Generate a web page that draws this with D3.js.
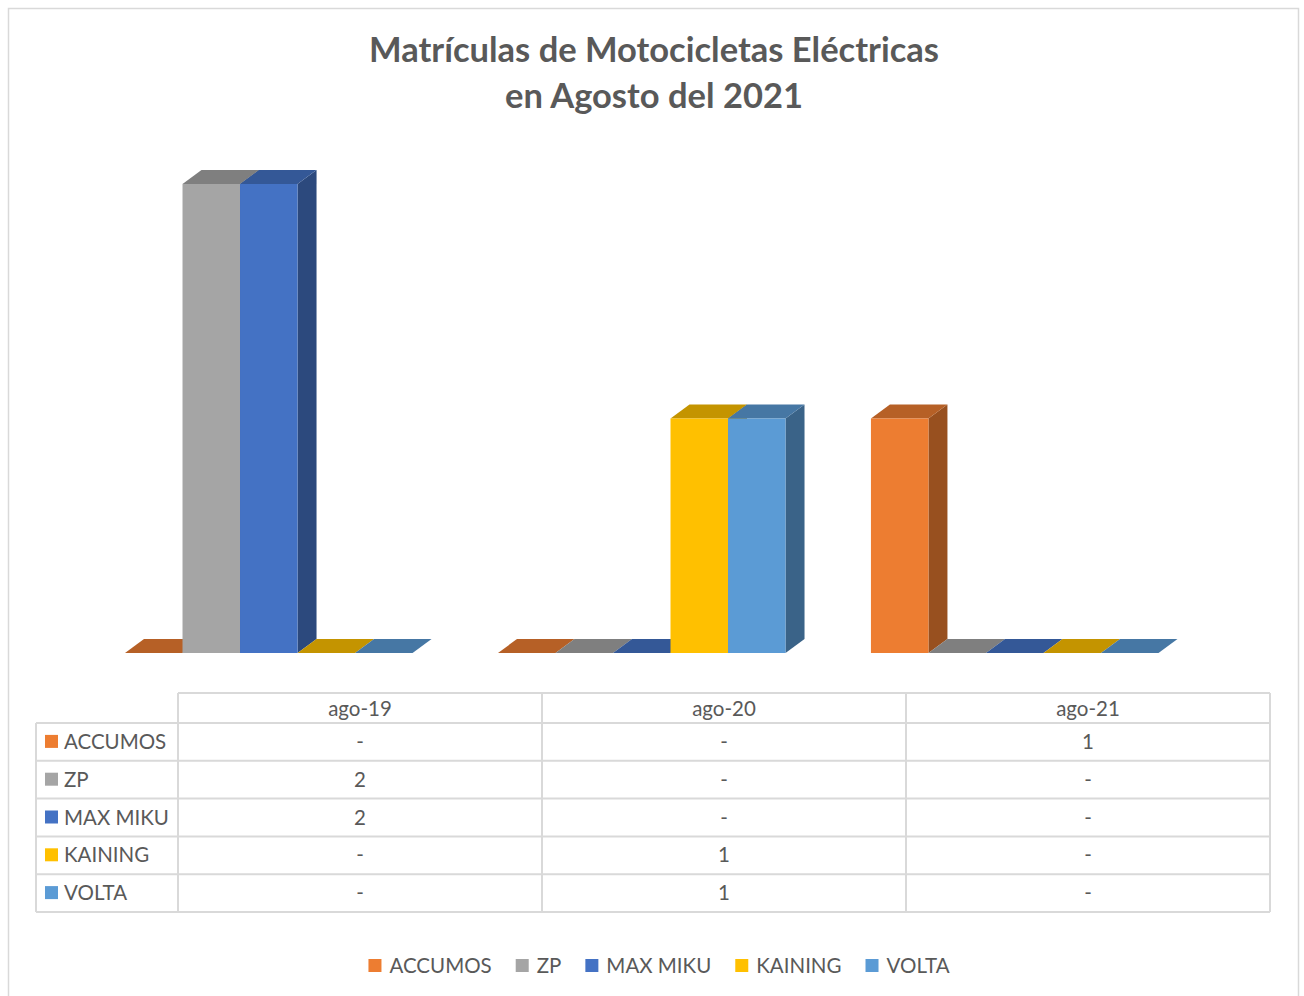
<!DOCTYPE html>
<html>
<head>
<meta charset="utf-8">
<script src="https://cdn.jsdelivr.net/npm/d3@7"></script>
<style>
  body { margin: 0; background: #fff; }
  text { font-family: Lato, 'Open Sans', sans-serif; fill: #595959; }
</style>
</head>
<body>
<script>
const categories = ['ago-19', 'ago-20', 'ago-21'];
const series = ['ACCUMOS', 'ZP', 'MAX MIKU', 'KAINING', 'VOLTA'];
const colors = ['#ED7D31', '#A5A5A5', '#4472C4', '#FFC000', '#5B9BD5'];

const accumos = [0, 0, 1];
const zp = [2, 0, 0];
const maxMiku = [2, 0, 0];
const kaining = [0, 1, 0];
const volta = [0, 1, 0];
const values = [accumos, zp, maxMiku, kaining, volta];

const W = 1304, H = 996;
const depthX = 19, depthY = 14;

const svg = d3.select('body').append('svg')
  .attr('width', W)
  .attr('height', H);

// chart frame
svg.append('rect')
  .attr('x', 8.5).attr('y', 8.5)
  .attr('width', 1290).attr('height', 1000)
  .attr('fill', '#fff')
  .attr('stroke', '#D9D9D9')
  .attr('stroke-width', 1.5);

// title
const title = svg.append('text')
  .attr('text-anchor', 'middle')
  .style('font-weight', 'bold')
  .style('font-size', '34.5px');
title.append('tspan').attr('x', 654).attr('y', 62).text('Matrículas de Motocicletas Eléctricas');
title.append('tspan').attr('x', 654).attr('y', 108).text('en Agosto del 2021');

// scales
const x0 = d3.scaleBand()
  .domain(categories)
  .range([125, 1158.5])
  .paddingInner(0.229);

const x1 = d3.scaleBand()
  .domain(series)
  .range([0, x0.bandwidth()]);

const y = d3.scaleLinear()
  .domain([0, 2])
  .range([653, 184]);

// 3D bars, drawn left to right so nearer faces overlap
const bars = [];
categories.forEach((c, ci) => {
  series.forEach((s, si) => {
    bars.push({ cat: c, ser: s, color: colors[si], value: values[si][ci] });
  });
});

const shade = (c, k) => {
  const r = d3.rgb(c);
  return d3.rgb(r.r * k, r.g * k, r.b * k).formatHex();
};

const barG = svg.append('g');
bars.forEach(d => {
  const xl = x0(d.cat) + x1(d.ser);
  const xr = xl + x1.bandwidth();
  const yt = y(d.value);
  const yb = y(0);
  const g = barG.append('g');
  // side face
  g.append('path')
    .attr('d', `M${xr},${yt}L${xr + depthX},${yt - depthY}L${xr + depthX},${yb - depthY}L${xr},${yb}Z`)
    .attr('fill', shade(d.color, 0.64));
  // top face
  g.append('path')
    .attr('d', `M${xl},${yt}L${xl + depthX},${yt - depthY}L${xr + depthX},${yt - depthY}L${xr},${yt}Z`)
    .attr('fill', shade(d.color, 0.77));
  // front face
  g.append('rect')
    .attr('x', xl).attr('y', yt)
    .attr('width', x1.bandwidth())
    .attr('height', yb - yt)
    .attr('fill', d.color);
});

// data table
const tx = d3.scaleBand().domain(categories).range([178, 1270]);
const headerTop = 693, rowTop = 723, rowH = 37.8, labelLeft = 36;
const tableBottom = rowTop + rowH * series.length;
const lineColor = '#D9D9D9';
const table = svg.append('g').attr('stroke', lineColor).attr('stroke-width', 2);

// horizontal lines
table.append('line').attr('x1', 178).attr('x2', 1270).attr('y1', headerTop).attr('y2', headerTop);
d3.range(series.length + 1).forEach(i => {
  table.append('line')
    .attr('x1', labelLeft).attr('x2', 1270)
    .attr('y1', rowTop + i * rowH).attr('y2', rowTop + i * rowH);
});
// vertical lines
table.append('line').attr('x1', labelLeft).attr('x2', labelLeft).attr('y1', rowTop).attr('y2', tableBottom);
categories.concat(['end']).forEach((c, i) => {
  const xx = 178 + i * tx.step();
  table.append('line').attr('x1', xx).attr('x2', xx).attr('y1', headerTop).attr('y2', tableBottom);
});

const txt = svg.append('g').style('font-size', '20.5px');
categories.forEach(c => {
  txt.append('text')
    .attr('x', tx(c) + tx.bandwidth() / 2)
    .attr('y', (headerTop + rowTop) / 2 + 1)
    .attr('dy', '0.35em')
    .attr('text-anchor', 'middle')
    .text(c);
});
series.forEach((s, si) => {
  const cy = rowTop + si * rowH + rowH / 2;
  txt.append('rect')
    .attr('x', 45).attr('y', cy - 7)
    .attr('width', 13).attr('height', 13)
    .attr('fill', colors[si]);
  txt.append('text')
    .attr('x', 64).attr('y', cy)
    .attr('dy', '0.35em')
    .text(s);
  categories.forEach((c, ci) => {
    const v = values[si][ci];
    txt.append('text')
      .attr('x', tx(c) + tx.bandwidth() / 2)
      .attr('y', cy)
      .attr('dy', '0.35em')
      .attr('text-anchor', 'middle')
      .text(v === 0 ? '-' : v);
  });
});

// legend
const legend = svg.append('g').style('font-size', '20.5px');
const items = series.map((s, i) => {
  const g = legend.append('g');
  g.append('rect').attr('x', 0).attr('y', -7).attr('width', 13).attr('height', 13).attr('fill', colors[i]);
  const t = g.append('text').attr('x', 21).attr('dy', '0.35em').text(s);
  return { g, w: 21 + t.node().getComputedTextLength() };
});
const gap = 24;
const total = d3.sum(items, d => d.w) + gap * (items.length - 1);
let lx = 659 - total / 2;
items.forEach(it => {
  it.g.attr('transform', `translate(${lx},966)`);
  lx += it.w + gap;
});
</script>
</body>
</html>
